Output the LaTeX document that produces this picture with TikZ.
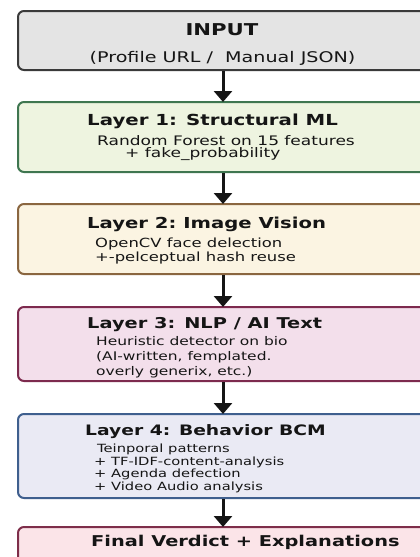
\documentclass[tikz,border=0pt]{standalone}
\usepackage{fontspec}
\setmainfont{DejaVu Sans}[FakeStretch=1.3]
\usetikzlibrary{arrows.meta}
\definecolor{inFill}{HTML}{E4E4E4}
\definecolor{inDraw}{HTML}{3A3A3A}
\definecolor{aFill}{HTML}{EEF4E0}
\definecolor{aDraw}{HTML}{3F7650}
\definecolor{bFill}{HTML}{FBF4E2}
\definecolor{bDraw}{HTML}{8A6640}
\definecolor{cFill}{HTML}{F3DFEB}
\definecolor{cDraw}{HTML}{7D2A4E}
\definecolor{dFill}{HTML}{EAEAF4}
\definecolor{dDraw}{HTML}{3F5F8E}
\definecolor{eFill}{HTML}{FBE4E8}
\definecolor{eDraw}{HTML}{7E2E4A}
\definecolor{ink}{HTML}{151515}
\tikzset{
  box/.style={rectangle, rounded corners=6pt, line width=2pt, minimum width=410pt, anchor=north west, inner sep=0pt},
  txt/.style={inner sep=0pt, anchor=base west, text=ink},
  ttl/.style={txt, font=\bfseries\fontsize{15.2}{17}\selectfont},
  bodyA/.style={txt, font=\fontsize{13.1}{15}\selectfont},
  bodyB/.style={txt, font=\fontsize{12.6}{15}\selectfont},
  bodyC/.style={txt, font=\fontsize{11.9}{14}\selectfont},
  bodyD/.style={txt, font=\fontsize{11.3}{13}\selectfont},
  arr/.style={draw=ink, line width=3pt, -{Triangle[width=18pt,length=11pt]}, shorten >=-1pt}
}
\begin{document}
\begin{tikzpicture}[x=1pt,y=-1pt]
\useasboundingbox (0,0) rectangle (420,557);
\fill[white] (0,0) rectangle (420,557);
\clip (0,0) rectangle (420,557);
% boxes
\node[box, fill=inFill, draw=inDraw, minimum height=59pt] (in) at (17,10) {};
\node[box, fill=aFill, draw=aDraw, minimum height=70pt] (l1) at (17,101) {};
\node[box, fill=bFill, draw=bDraw, minimum height=70pt] (l2) at (17,203) {};
\node[box, fill=cFill, draw=cDraw, minimum height=74pt] (l3) at (17,306) {};
\node[box, fill=dFill, draw=dDraw, minimum height=84pt] (l4) at (17,413) {};
\node[box, fill=eFill, draw=eDraw, minimum height=60pt] (fv) at (17,526) {};
% arrows
\draw[arr] (in.south) -- (l1.north);
\draw[arr] (l1.south) -- (l2.north);
\draw[arr] (l2.south) -- (l3.north);
\draw[arr] (l3.south) -- (l4.north);
\draw[arr] (l4.south) -- (fv.north);
% texts
\node[ttl, anchor=base, font=\bfseries\fontsize{16.3}{18}\selectfont] (inT) at (222,35) {INPUT};
\node[txt, anchor=base, font=\fontsize{14.7}{17}\selectfont] (inS) at (222.5,62) {(Profile URL /\ \ Manual JSON)};
\node[ttl] (l1T) at (87,125.3) {Layer 1: Structural ML};
\node[bodyA] (l1a) at (97,145.7) {Random Forest on 15 features};
\node[bodyA] (l1b) at (125,157.5) {+ fake\_probability};
\node[ttl, font=\bfseries\fontsize{15.1}{17}\selectfont] (l2T) at (87,228) {Layer 2:\ Image Vision};
\node[bodyB] (l2a) at (95,247) {OpenCV face delection};
\node[bodyB] (l2b) at (95,261.7) {+-pelceptual hash reuse};
\node[ttl, font=\bfseries\fontsize{14.9}{17}\selectfont] (l3T) at (87,328.3) {Layer 3: NLP / AI Text};
\node[bodyC] (l3a) at (96,345) {Heuristic detector on bio};
\node[bodyC] (l3b) at (96,360.5) {(AI-written, femplated.};
\node[bodyC] (l3c) at (96,375) {overly generix, etc.)};
\node[ttl, font=\bfseries\fontsize{14.4}{17}\selectfont] (l4T) at (85,435.7) {Layer 4: Behavior BCM};
\node[bodyD] (l4a) at (97,452.3) {Teinporal patterns};
\node[bodyD] (l4b) at (94,465) {+ TF-IDF-content-analysis};
\node[bodyD] (l4c) at (94,477.7) {+ Agenda defection};
\node[bodyD] (l4d) at (94,490) {+ Video Audio analysis};
\node[ttl, font=\bfseries\fontsize{14.9}{17}\selectfont] (fvT) at (91,546.7) {Final Verdict + Explanations};
\end{tikzpicture}
\end{document}
